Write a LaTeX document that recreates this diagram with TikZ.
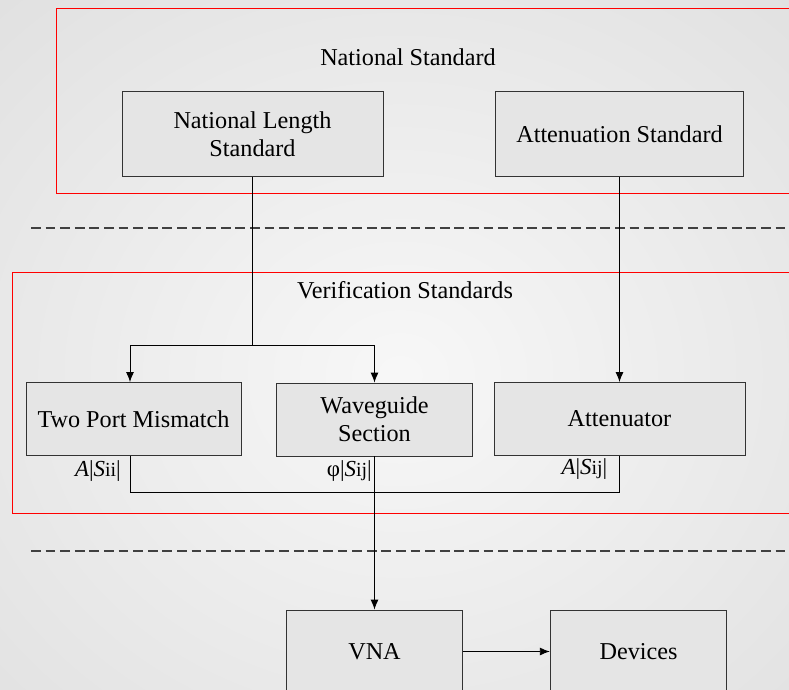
\documentclass[tikz,border=0pt]{standalone}
\usepackage{fontspec}
\setmainfont{Liberation Serif}
\usetikzlibrary{arrows.meta,calc}
\begin{document}
\begin{tikzpicture}[x=1bp,y=-1bp,
  box/.style={draw=black!80,line width=0.9bp,fill=black!10,inner sep=0pt,align=center,font=\fontsize{24.3}{28}\selectfont},
  redframe/.style={draw=red,line width=0.9bp},
  sep/.style={draw=black!75,line width=1.3bp,dash pattern=on 9.8bp off 4.8bp},
  conn/.style={draw=black,line width=0.9bp},
  arr/.style={conn,-{Latex[length=10bp,width=8bp]}},
  lbl/.style={font=\fontsize{23}{26}\selectfont,inner sep=0pt},
  title/.style={font=\fontsize{24.3}{28}\selectfont,inner sep=0pt}]
\useasboundingbox (0,0) rectangle (789,690);
\clip (0,0) rectangle (789,690);
\shade[inner color=white!97!black,outer color=black!12] (-200,-150) rectangle (1000,900);
% frames and separators
\draw[redframe] (56,8.5) rectangle (800,193);
\draw[redframe] (12,272) rectangle (800,513.5);
\coordinate (s1a) at (31,228); \coordinate (s1b) at (789,228);
\coordinate (s2a) at (31,551); \coordinate (s2b) at (789,551);
\draw[sep] (s1a) -- (s1b);
\draw[sep] (s2a) -- (s2b);
% titles
\node[title] (tns) at (408,57) {National Standard};
\node[title] (tvs) at (405,290) {Verification Standards};
% boxes
\node[box,minimum width=261bp,minimum height=85bp] (nls) at (252.5,134) {National Length\\Standard};
\node[box,minimum width=248bp,minimum height=85bp] (ast) at (619.5,134) {Attenuation Standard};
\node[box,minimum width=215bp,minimum height=73bp] (tpm) at (133.5,419) {Two Port Mismatch};
\node[box,minimum width=196bp,minimum height=73bp] (wgs) at (374.5,419.5) {Waveguide\\Section};
\node[box,minimum width=251bp,minimum height=73bp] (att) at (619.5,419) {Attenuator};
\node[box,minimum width=176.5bp,minimum height=83bp] (vna) at (374.5,651.5) {VNA};
\node[box,minimum width=176.5bp,minimum height=83bp] (dev) at (638.5,651.5) {Devices};
% connectors
\coordinate (br) at (252.5,345.5);
\coordinate (tpmin) at ($(tpm.north)+(-3.5,0)$);
\coordinate (tpmout) at ($(tpm.south)+(-3.5,0)$);
\coordinate (low) at (130,492);
\draw[conn] (nls.south) -- (br);
\draw[arr] (br) -| (tpmin);
\draw[arr] (br) -| (wgs.north);
\draw[arr] (ast.south) -- (att.north);
\draw[conn] (tpmout) -- (low) -| (att.south);
\draw[arr] (wgs.south) -- (vna.north);
\draw[arr] (vna.east) -- (dev.west);
% labels
\node[lbl,anchor=east] (l1) at (121,471) {\textit{A}|\textit{S}{\fontsize{20}{22}\selectfont ii}|};
\node[lbl,anchor=east] (l2) at (372,471) {φ|\textit{S}{\fontsize{20}{22}\selectfont ij}|};
\node[lbl,anchor=east] (l3) at (607.5,469) {\textit{A}|\textit{S}{\fontsize{20}{22}\selectfont ij}|};
\end{tikzpicture}
\end{document}
